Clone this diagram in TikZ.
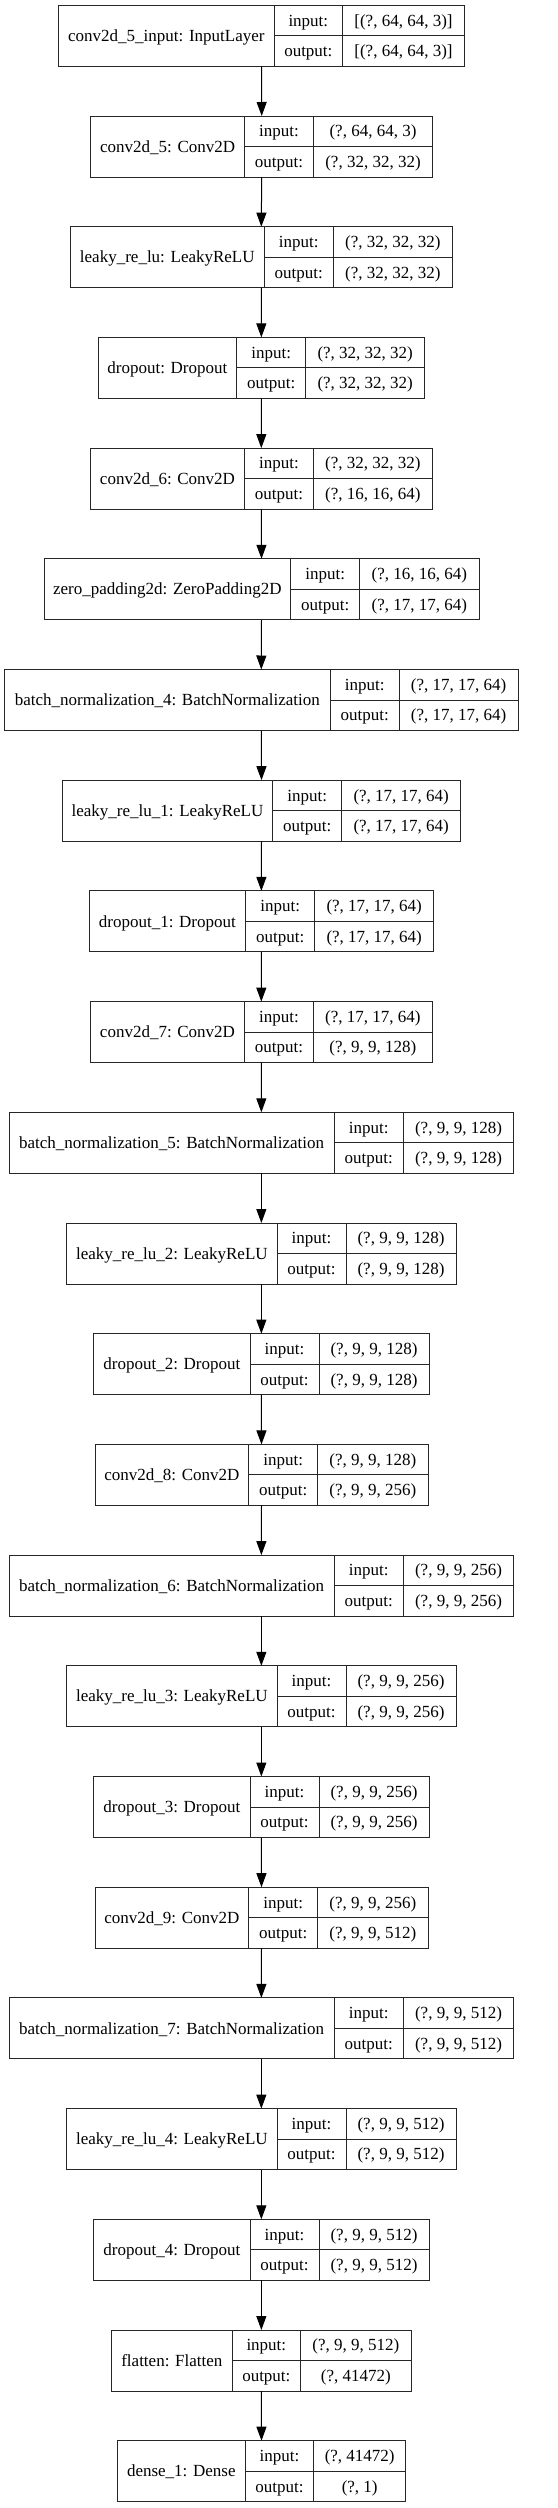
\documentclass[tikz,border=0pt]{standalone}
\usepackage{fontspec}
\setmainfont{Liberation Serif}
\usetikzlibrary{arrows.meta}
\tikzset{
  layerbox/.style={draw=black!85, line width=1pt, inner sep=0pt, outer sep=0pt, minimum height=61pt},
  cellline/.style={draw=black!85, line width=1pt},
  txt/.style={inner sep=0pt, anchor=base, font=\fontsize{17}{20}\selectfont},
  flow/.style={draw=black, line width=1pt, -{Triangle[length=14pt,width=10pt]}}
}
\newcommand\kl[9]{%
  \pgfmathsetmacro\ytop{5.3+#2*110.7}%
  \pgfmathsetmacro\ymid{\ytop+30.5}%
  \pgfmathsetmacro\ybot{\ytop+61}%
  \pgfmathsetmacro\boxw{#6-#3}%
  \pgfmathsetmacro\boxx{(#3+#6)/2}%
  \node[layerbox, minimum width=\boxw pt] (#1) at (\boxx,\ymid) {};
  \draw[cellline] (#4,\ytop) -- (#4,\ybot);
  \draw[cellline] (#5,\ytop) -- (#5,\ybot);
  \draw[cellline] (#4,\ymid) -- (#6,\ymid);
  \pgfmathsetmacro\labx{(#3+#4)/2}%
  \pgfmathsetmacro\iox{(#4+#5)/2}%
  \pgfmathsetmacro\valx{(#5+#6)/2}%
  \pgfmathsetmacro\laby{\ymid+5.6}%
  \pgfmathsetmacro\iny{\ytop+15.25+5.6}%
  \pgfmathsetmacro\outy{\ymid+15.25+5.6}%
  \node[txt] (#1-l) at (\labx,\laby) {#7};
  \node[txt] (#1-i) at (\iox,\iny) {input:};
  \node[txt] (#1-o) at (\iox,\outy) {output:};
  \node[txt] (#1-iv) at (\valx,\iny) {#8};
  \node[txt] (#1-ov) at (\valx,\outy) {#9};
}
\begin{document}
\begin{tikzpicture}[x=1pt,y=-1pt]
\useasboundingbox (0,0) rectangle (557,2508);
\fill[white] (0,0) rectangle (557,2508);
\kl{b1}{0}{58.7}{274}{342.7}{464.3}{conv2d\_5\_input: InputLayer}{[(?, 64, 64, 3)]}{[(?, 64, 64, 3)]}
\kl{b2}{1}{90.7}{244.7}{313.3}{432.7}{conv2d\_5: Conv2D}{(?, 64, 64, 3)}{(?, 32, 32, 32)}
\kl{b3}{2}{70.3}{264.3}{333.3}{452.3}{leaky\_re\_lu: LeakyReLU}{(?, 32, 32, 32)}{(?, 32, 32, 32)}
\kl{b4}{3}{98}{236.7}{305.7}{424.7}{dropout: Dropout}{(?, 32, 32, 32)}{(?, 32, 32, 32)}
\kl{b5}{4}{90.3}{244.7}{313.3}{432.3}{conv2d\_6: Conv2D}{(?, 32, 32, 32)}{(?, 16, 16, 64)}
\kl{b6}{5}{44}{290.7}{359.7}{479}{zero\_padding2d: ZeroPadding2D}{(?, 16, 16, 64)}{(?, 17, 17, 64)}
\kl{b7}{6}{4.3}{330.3}{399}{518.3}{batch\_normalization\_4: BatchNormalization}{(?, 17, 17, 64)}{(?, 17, 17, 64)}
\kl{b8}{7}{62.3}{272.7}{341.7}{460.7}{leaky\_re\_lu\_1: LeakyReLU}{(?, 17, 17, 64)}{(?, 17, 17, 64)}
\kl{b9}{8}{89}{245.7}{314.7}{433.7}{dropout\_1: Dropout}{(?, 17, 17, 64)}{(?, 17, 17, 64)}
\kl{b10}{9}{90.3}{244.7}{313.3}{432.3}{conv2d\_7: Conv2D}{(?, 17, 17, 64)}{(?, 9, 9, 128)}
\kl{b11}{10}{9}{334.3}{403.3}{513.7}{batch\_normalization\_5: BatchNormalization}{(?, 9, 9, 128)}{(?, 9, 9, 128)}
\kl{b12}{11}{66.7}{277}{346}{456}{leaky\_re\_lu\_2: LeakyReLU}{(?, 9, 9, 128)}{(?, 9, 9, 128)}
\kl{b13}{12}{93.7}{250}{319}{429}{dropout\_2: Dropout}{(?, 9, 9, 128)}{(?, 9, 9, 128)}
\kl{b14}{13}{95}{248.7}{317.7}{428}{conv2d\_8: Conv2D}{(?, 9, 9, 128)}{(?, 9, 9, 256)}
\kl{b15}{14}{9}{334.3}{403.3}{513.7}{batch\_normalization\_6: BatchNormalization}{(?, 9, 9, 256)}{(?, 9, 9, 256)}
\kl{b16}{15}{66.7}{277}{346}{456}{leaky\_re\_lu\_3: LeakyReLU}{(?, 9, 9, 256)}{(?, 9, 9, 256)}
\kl{b17}{16}{93.7}{250}{319}{429}{dropout\_3: Dropout}{(?, 9, 9, 256)}{(?, 9, 9, 256)}
\kl{b18}{17}{95}{248.7}{317.7}{428}{conv2d\_9: Conv2D}{(?, 9, 9, 256)}{(?, 9, 9, 512)}
\kl{b19}{18}{9}{334.3}{403.3}{513.7}{batch\_normalization\_7: BatchNormalization}{(?, 9, 9, 512)}{(?, 9, 9, 512)}
\kl{b20}{19}{66.7}{277}{346}{456}{leaky\_re\_lu\_4: LeakyReLU}{(?, 9, 9, 512)}{(?, 9, 9, 512)}
\kl{b21}{20}{93.7}{250}{319}{429}{dropout\_4: Dropout}{(?, 9, 9, 512)}{(?, 9, 9, 512)}
\kl{b22}{21}{111.7}{232}{300.7}{411}{flatten: Flatten}{(?, 9, 9, 512)}{(?, 41472)}
\kl{b23}{22}{117.3}{245.3}{313.7}{405.7}{dense\_1: Dense}{(?, 41472)}{(?, 1)}
\foreach \src [count=\dst from 2] in {1,...,22} {
  \draw[flow] (b\src.south) -- (b\dst.north);
}
\end{tikzpicture}
\end{document}
